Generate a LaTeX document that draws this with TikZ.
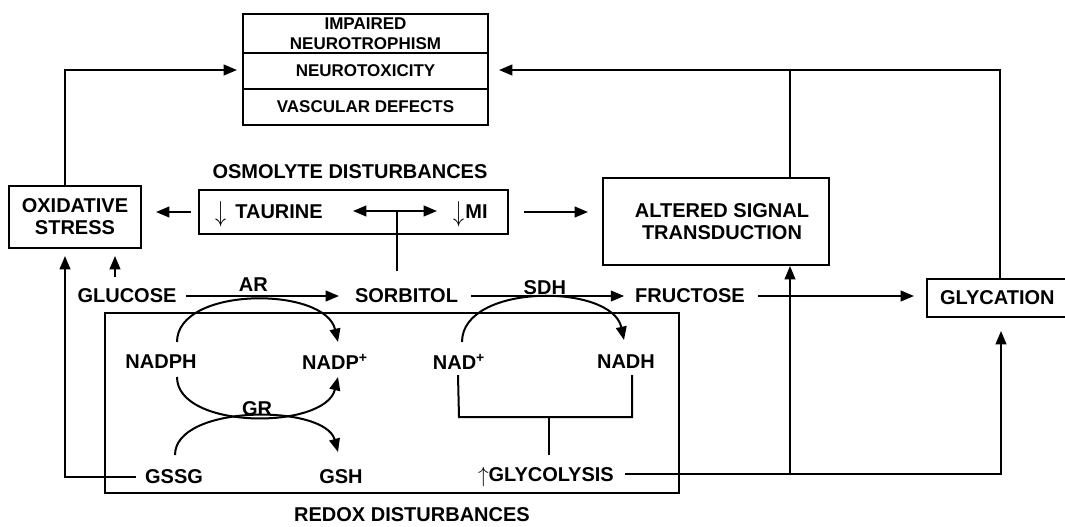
\documentclass[tikz,border=0pt]{standalone}
\usepackage{fontspec}
\setmainfont{Liberation Sans}
\usetikzlibrary{arrows.meta}
\begin{document}
\begin{tikzpicture}[x=0.75pt,y=-0.75pt,
  line width=1.5pt,
  lbl/.style={font=\bfseries\fontsize{15}{16.5}\selectfont, inner sep=0pt, align=center},
  box/.style={draw, line width=1.5pt, inner sep=0pt, align=center, font=\bfseries\fontsize{15}{16.5}\selectfont},
  tbox/.style={draw, line width=1.5pt, inner sep=0pt, align=center, font=\bfseries\fontsize{12.75}{15}\selectfont, minimum width=183.75pt},
  arr/.style={-{Triangle[length=10pt,width=8pt]}},
  darr/.style={{Triangle[length=10pt,width=8pt]}-{Triangle[length=10pt,width=8pt]}},
  ]
\useasboundingbox (0,0) rectangle (1065,526);

% outcome boxes
\node[tbox, minimum height=29.25pt] (imp) at (365.5,33.5) {IMPAIRED\\NEUROTROPHISM};
\node[tbox, minimum height=27pt] (tox) at (365.5,71) {NEUROTOXICITY};
\node[tbox, minimum height=27pt] (vasc) at (365.5,107) {VASCULAR DEFECTS};

% main boxes
\node[box, minimum width=99pt, minimum height=46.5pt] (ox) at (75,217) {OXIDATIVE\\STRESS};
\node[box, minimum width=231.75pt, minimum height=33pt] (osm) at (353.5,212) {};
\node[lbl] (osmt) at (350,172) {OSMOLYTE DISTURBANCES};
\node[lbl, anchor=base west] (tau) at (214,218) {\raisebox{-2.5pt}{\scalebox{1.15}[1.5]{$\downarrow$}}\hspace{7pt}TAURINE};
\node[lbl, anchor=base west] (mi) at (452,218) {\raisebox{-2.5pt}{\scalebox{1.15}[1.5]{$\downarrow$}}\hspace{1pt}MI};
\node[box, minimum width=169.5pt, minimum height=65.25pt] (alt) at (716,221.5) {\hspace*{9pt}ALTERED SIGNAL\\\hspace*{9pt}TRANSDUCTION};
\node[box, minimum width=109.5pt, minimum height=28.5pt, anchor=west] (gly) at (926,298) {\hspace*{-4pt}GLYCATION};

% pathway
\node[lbl] (glu) at (127,296) {GLUCOSE};
\node[lbl] (sor) at (406.5,296) {SORBITOL};
\node[lbl] (fru) at (690,296) {FRUCTOSE};

% redox box
\node[draw, line width=1.5pt, inner sep=0pt, minimum width=430.5pt, minimum height=135pt] (redox) at (392,403) {};
\node[lbl] (redt) at (412,515) {REDOX DISTURBANCES};
\node[lbl] (nadph) at (161,362) {NADPH};
\node[lbl] (nadp) at (335,362) {NADP\textsuperscript{+}};
\node[lbl] (nad) at (459,362) {NAD\textsuperscript{+}};
\node[lbl] (nadh) at (626,362) {NADH};
\node[lbl] (gssg) at (174,477) {GSSG};
\node[lbl] (gsh) at (341,477) {GSH};
\node[lbl, anchor=base west] (glyc) at (477,481) {\raisebox{-1pt}{\scalebox{1.1}[1.15]{$\uparrow$}}GLYCOLYSIS};

% junction coordinates
\coordinate (c1) at (65,70);
\coordinate (c2) at (1000,70);
\coordinate (c3) at (790,70);
\coordinate (c4) at (115,283);
\coordinate (s1) at (65,477);
\coordinate (g1) at (790,474);
\coordinate (g2) at (1001,474);
\coordinate (dl) at (353,211);
\coordinate (dr) at (437,211);
\coordinate (dm) at (397,211);
\coordinate (br) at (549,417);

% pathway arrows
\draw[arr, shorten <=6.75pt, shorten >=11.25pt] (glu.east) -- node[lbl, pos=0.43, above=3pt] (ar) {AR} (glu.east -| sor.west);
\draw[arr, shorten <=9pt, shorten >=7.5pt] (sor.east) -- node[lbl, pos=0.49, above=0.5pt] (sdh) {SDH} (sor.east -| fru.west);
\draw[arr, shorten <=9pt, shorten >=9pt] (fru.east) -- (fru.east -| gly.west);

% osmolyte connections
\draw[darr] (dl) -- (dr);
\draw[shorten >=12.75pt] (dm) -- (dm |- sor.north);
\draw[arr, shorten <=5.25pt, shorten >=10.5pt] (osm.west) -- (osm.west -| ox.east);
\draw[arr, shorten <=11.25pt, shorten >=10.5pt] (osm.east) -- (osm.east -| alt.west);

% to the outcome boxes
\draw[arr, shorten >=3.75pt] (ox.north -| c1) -- (c1) -- (c1 -| tox.west);
\draw[arr, shorten >=7.5pt] (gly.north -| c2) -- (c2) -- (c2 -| tox.east);
\draw (alt.north -| c3) -- (c3);

% into oxidative stress
\draw[arr, shorten <=4.5pt, shorten >=5.25pt] (c4) -- (c4 |- ox.south);
\draw[arr, shorten <=6pt, shorten >=5.25pt] (gssg.west) -- (s1) -- (s1 |- ox.south);

% glycolysis outputs
\draw[arr, shorten <=7.5pt, shorten >=9.75pt] (glyc.east |- g2) -- (g2) -- (g2 |- gly.south);
\draw[arr] (g1) -- (g1 |- alt.south);

% cofactor arcs
\draw[arr] ([shift={(16,-20)}]nadph.center) .. controls +(0,-56) and +(-13,-56) .. ([shift={(3,-20)}]nadp.center);
\draw[arr] ([shift={(16,15)}]nadph.center) .. controls +(0,53) and +(-13,53) .. ([shift={(3,15)}]nadp.center);
\draw[arr] ([shift={(1,-22)}]gssg.center) .. controls +(0,-51) and +(-13,-48) .. ([shift={(-3,-25)}]gsh.center);
\node[lbl] (gr) at (257,409) {GR};
\draw[arr] ([shift={(3,-20)}]nad.center) .. controls +(0,-59) and +(-12,-57) .. ([shift={(-2,-22)}]nadh.center);

% NAD bracket
\draw ([shift={(-1,13)}]nad.center) -- (nad.center |- br) -| ([shift={(6,13)}]nadh.center);
\draw (br) -- ++(0,38);
\end{tikzpicture}
\end{document}
